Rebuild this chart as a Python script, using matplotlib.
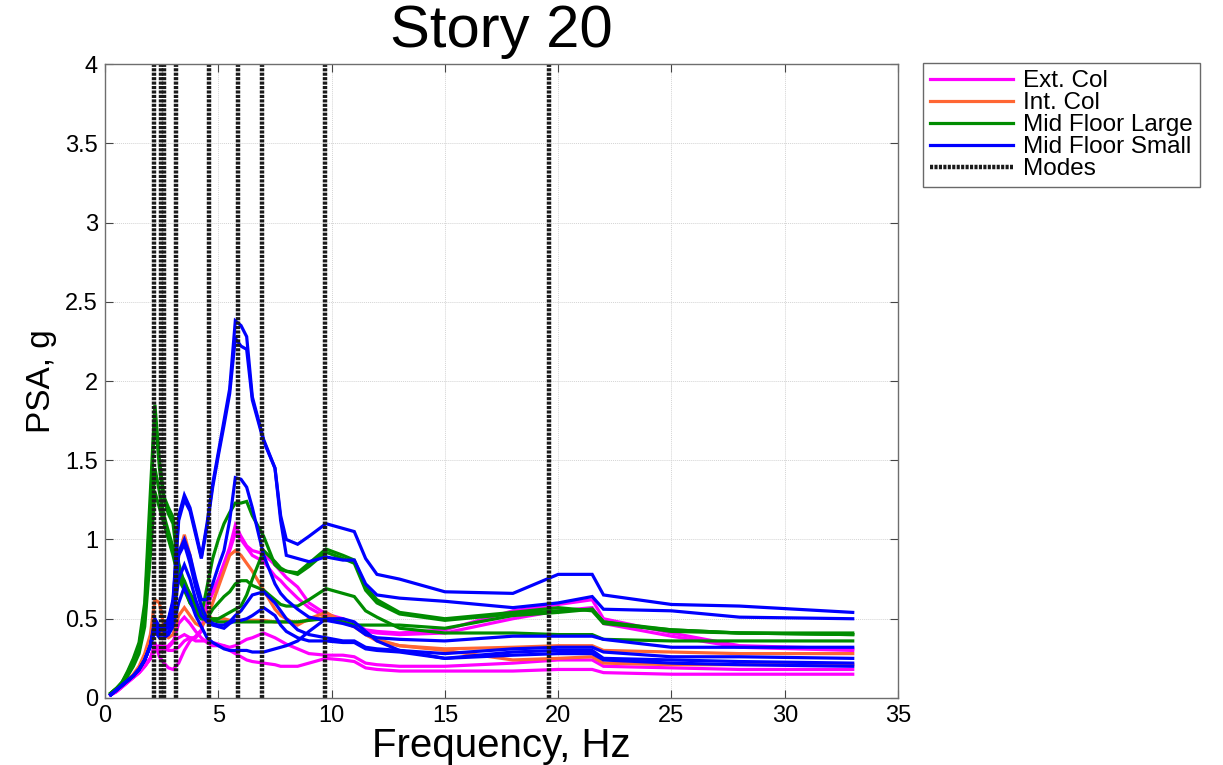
import matplotlib
matplotlib.use("Agg")
import matplotlib.pyplot as plt
from matplotlib.lines import Line2D

# Frequency grid (Hz) shared by every response spectrum
freq = [0.25, 0.5, 0.75, 1.0, 1.25, 1.5, 1.75, 2.0, 2.2, 2.4, 2.6, 2.8, 3.0,
        3.25, 3.5, 3.75, 4.0, 4.25, 4.5, 4.75, 5.0, 5.25, 5.5, 5.75, 6.0,
        6.25, 6.5, 7.0, 7.5, 7.75, 8.0, 8.5, 9.0, 9.75, 10.5, 11.0, 11.5,
        12.0, 13.0, 15.0, 18.0, 20.0, 21.5, 22.0, 25.0, 28.0, 33.0]

# PSA (g) per sensor location
ext_col = [
    [0.02, 0.04, 0.07, 0.10, 0.13, 0.16, 0.20, 0.25, 0.35, 0.26, 0.22, 0.19, 0.18,
     0.22, 0.30, 0.36, 0.39, 0.43, 0.60, 0.68, 0.75, 0.85, 0.95, 1.09, 1.02,
     0.96, 0.93, 0.91, 0.84, 0.80, 0.76, 0.70, 0.60, 0.53, 0.50, 0.47, 0.43,
     0.42, 0.41, 0.43, 0.55, 0.59, 0.62, 0.50, 0.41, 0.33, 0.31],
    [0.02, 0.04, 0.07, 0.10, 0.13, 0.16, 0.20, 0.25, 0.31, 0.30, 0.31, 0.30, 0.30,
     0.32, 0.36, 0.38, 0.38, 0.42, 0.58, 0.66, 0.73, 0.83, 0.93, 1.04, 1.00,
     0.95, 0.90, 0.86, 0.77, 0.74, 0.70, 0.63, 0.57, 0.51, 0.48, 0.45, 0.42,
     0.41, 0.40, 0.41, 0.50, 0.55, 0.57, 0.47, 0.39, 0.32, 0.30],
    [0.02, 0.04, 0.07, 0.10, 0.13, 0.16, 0.20, 0.25, 0.32, 0.33, 0.33, 0.32, 0.35,
     0.47, 0.51, 0.47, 0.42, 0.38, 0.35, 0.33, 0.33, 0.33, 0.32, 0.33, 0.35,
     0.37, 0.38, 0.41, 0.38, 0.36, 0.34, 0.31, 0.28, 0.27, 0.27, 0.26, 0.22,
     0.21, 0.20, 0.20, 0.22, 0.24, 0.24, 0.20, 0.19, 0.18, 0.18],
    [0.02, 0.04, 0.07, 0.10, 0.13, 0.16, 0.20, 0.25, 0.30, 0.30, 0.31, 0.33, 0.36,
     0.38, 0.40, 0.38, 0.36, 0.36, 0.36, 0.35, 0.34, 0.33, 0.30, 0.28, 0.26,
     0.24, 0.23, 0.22, 0.21, 0.20, 0.20, 0.20, 0.22, 0.25, 0.24, 0.23, 0.19,
     0.18, 0.17, 0.17, 0.17, 0.18, 0.18, 0.16, 0.15, 0.15, 0.15],
]

int_col = [
    [0.02, 0.05, 0.08, 0.11, 0.15, 0.20, 0.28, 0.40, 0.62, 0.60, 0.45, 0.45, 0.55,
     0.90, 1.03, 0.90, 0.72, 0.58, 0.52, 0.50, 0.50, 0.50, 0.49, 0.49, 0.49,
     0.49, 0.49, 0.49, 0.48, 0.48, 0.48, 0.48, 0.49, 0.51, 0.49, 0.47, 0.40,
     0.36, 0.33, 0.31, 0.32, 0.33, 0.33, 0.30, 0.29, 0.28, 0.28],
    [0.02, 0.05, 0.08, 0.11, 0.14, 0.18, 0.25, 0.34, 0.45, 0.42, 0.40, 0.38, 0.40,
     0.52, 0.57, 0.52, 0.47, 0.45, 0.50, 0.60, 0.70, 0.80, 0.90, 0.93, 0.90,
     0.85, 0.80, 0.68, 0.56, 0.52, 0.50, 0.46, 0.50, 0.54, 0.48, 0.45, 0.40,
     0.37, 0.33, 0.30, 0.24, 0.25, 0.26, 0.22, 0.21, 0.21, 0.21],
]

mid_large = [
    [0.03, 0.06, 0.10, 0.17, 0.25, 0.35, 0.60, 1.30, 1.85, 1.50, 1.27, 1.20, 1.14,
     0.85, 0.72, 0.66, 0.60, 0.54, 0.50, 0.49, 0.48, 0.48, 0.48, 0.48, 0.48,
     0.48, 0.48, 0.48, 0.48, 0.48, 0.48, 0.48, 0.49, 0.50, 0.48, 0.46, 0.46,
     0.46, 0.46, 0.44, 0.52, 0.54, 0.56, 0.48, 0.42, 0.41, 0.40],
    [0.03, 0.06, 0.10, 0.16, 0.24, 0.33, 0.55, 1.20, 1.80, 1.45, 1.25, 1.16, 1.10,
     0.80, 0.74, 0.65, 0.58, 0.52, 0.70, 0.88, 1.00, 1.10, 1.17, 1.23, 1.23,
     1.24, 1.15, 1.02, 0.84, 0.81, 0.80, 0.79, 0.85, 0.94, 0.90, 0.87, 0.70,
     0.62, 0.54, 0.50, 0.54, 0.57, 0.55, 0.47, 0.43, 0.41, 0.40],
    [0.03, 0.06, 0.09, 0.15, 0.22, 0.30, 0.50, 1.00, 1.45, 1.30, 1.15, 1.05, 0.95,
     0.78, 0.70, 0.60, 0.55, 0.50, 0.50, 0.56, 0.60, 0.64, 0.67, 0.72, 0.74,
     0.74, 0.71, 0.68, 0.62, 0.59, 0.58, 0.58, 0.62, 0.69, 0.66, 0.64, 0.55,
     0.51, 0.44, 0.41, 0.41, 0.40, 0.40, 0.37, 0.36, 0.36, 0.36],
    [0.03, 0.06, 0.09, 0.14, 0.20, 0.28, 0.45, 0.90, 1.30, 1.20, 1.10, 1.00, 0.90,
     0.75, 0.68, 0.60, 0.55, 0.50, 0.50, 0.50, 0.50, 0.52, 0.54, 0.56, 0.58,
     0.65, 0.75, 0.93, 0.86, 0.82, 0.80, 0.78, 0.83, 0.92, 0.88, 0.85, 0.68,
     0.60, 0.53, 0.49, 0.53, 0.55, 0.56, 0.48, 0.43, 0.41, 0.41],
]

mid_small = [
    [0.02, 0.05, 0.08, 0.11, 0.14, 0.18, 0.24, 0.33, 0.48, 0.44, 0.46, 0.50, 0.62,
     1.15, 1.28, 1.20, 1.05, 0.89, 1.10, 1.35, 1.55, 1.75, 1.95, 2.38, 2.35,
     2.28, 1.90, 1.63, 1.45, 1.15, 1.00, 0.97, 1.02, 1.10, 1.07, 1.05, 0.88,
     0.78, 0.75, 0.67, 0.66, 0.78, 0.78, 0.65, 0.59, 0.58, 0.54],
    [0.02, 0.05, 0.08, 0.11, 0.14, 0.18, 0.24, 0.33, 0.47, 0.43, 0.45, 0.49, 0.60,
     1.12, 1.25, 1.18, 1.03, 0.88, 1.08, 1.33, 1.53, 1.72, 1.92, 2.27, 2.22,
     2.20, 1.88, 1.62, 1.45, 1.12, 0.90, 0.88, 0.86, 0.89, 0.87, 0.87, 0.72,
     0.65, 0.63, 0.61, 0.57, 0.60, 0.64, 0.56, 0.55, 0.51, 0.50],
    [0.02, 0.05, 0.08, 0.11, 0.14, 0.18, 0.24, 0.33, 0.47, 0.42, 0.44, 0.48, 0.60,
     0.92, 1.00, 0.90, 0.75, 0.62, 0.62, 0.72, 0.83, 0.93, 1.12, 1.39, 1.38,
     1.33, 1.20, 0.90, 0.72, 0.66, 0.62, 0.56, 0.51, 0.49, 0.47, 0.45, 0.40,
     0.38, 0.37, 0.36, 0.39, 0.39, 0.39, 0.37, 0.32, 0.32, 0.32],
    [0.02, 0.05, 0.08, 0.11, 0.14, 0.18, 0.24, 0.33, 0.50, 0.45, 0.42, 0.45, 0.55,
     0.90, 0.97, 0.85, 0.70, 0.58, 0.50, 0.47, 0.46, 0.46, 0.48, 0.52, 0.55,
     0.60, 0.65, 0.67, 0.60, 0.55, 0.50, 0.43, 0.40, 0.38, 0.36, 0.36, 0.32,
     0.31, 0.30, 0.28, 0.31, 0.32, 0.32, 0.29, 0.26, 0.26, 0.25],
    [0.02, 0.05, 0.08, 0.11, 0.14, 0.18, 0.24, 0.33, 0.45, 0.40, 0.40, 0.42, 0.50,
     0.75, 0.84, 0.75, 0.62, 0.52, 0.48, 0.46, 0.45, 0.44, 0.47, 0.49, 0.49,
     0.50, 0.52, 0.57, 0.52, 0.46, 0.42, 0.38, 0.36, 0.36, 0.35, 0.35, 0.31,
     0.30, 0.29, 0.25, 0.29, 0.30, 0.30, 0.25, 0.24, 0.23, 0.22],
    [0.02, 0.05, 0.08, 0.11, 0.14, 0.18, 0.24, 0.33, 0.42, 0.38, 0.38, 0.40, 0.45,
     0.60, 0.70, 0.62, 0.52, 0.45, 0.38, 0.35, 0.33, 0.31, 0.30, 0.30, 0.30,
     0.30, 0.29, 0.29, 0.31, 0.32, 0.33, 0.36, 0.42, 0.50, 0.50, 0.48, 0.42,
     0.36, 0.30, 0.25, 0.27, 0.28, 0.28, 0.24, 0.22, 0.21, 0.20],
]

# Modal frequencies of the building (Hz)
modes = [2.17, 2.49, 2.62, 3.15, 4.6, 5.86, 6.91, 9.71, 19.6]

labels = ["Ext. Col", "Int. Col", "Mid Floor Large", "Mid Floor Small"]
colors = ["#ff00ff", "#ff6633", "#008c00", "#0000ff"]
groups = [ext_col, int_col, mid_large, mid_small]

plt.rcParams["font.family"] = ["Liberation Sans", "DejaVu Sans"]

fig = plt.figure(figsize=(12.23, 7.65), dpi=100)
ax = fig.add_axes([0.0859, 0.0876, 0.6484, 0.8287])

for curves, color in zip(groups, colors):
    for psa in curves:
        ax.plot(freq, psa, color=color, lw=2.3, solid_joinstyle="miter")

mode_style = dict(color="#1a1a1a", lw=3.2, linestyle=(0, (0.7, 0.3)))
for f in modes:
    ax.axvline(f, **mode_style)

ax.set_xlim(0, 35)
ax.set_ylim(0, 4)
ax.set_xticks(range(0, 36, 5))
ax.set_yticks([i * 0.5 for i in range(9)])
ax.set_yticklabels(["0", "0.5", "1", "1.5", "2", "2.5", "3", "3.5", "4"])
ax.grid(True, color="#d4d4d4", lw=0.7, linestyle=(0, (1, 1)))
ax.set_axisbelow(True)
ax.tick_params(direction="in", length=6, width=0.8, color="#444444",
               top=True, right=True, labelsize=17, pad=5)
for spine in ax.spines.values():
    spine.set_color("#6e6e6e")
    spine.set_linewidth(1.0)

ax.set_xlabel("Frequency, Hz", fontsize=29, labelpad=0)
ax.set_ylabel("PSA, g", fontsize=24, labelpad=6)
ax.set_title("Story 20", fontsize=43, pad=12)

handles = [Line2D([], [], color=c, lw=2.3) for c in colors]
handles.append(Line2D([], [], **mode_style))
leg = fig.legend(handles, labels + ["Modes"], loc="upper left",
                 bbox_to_anchor=(0.7547, 0.918), fontsize=17.5, frameon=True,
                 fancybox=False, edgecolor="#444444", handlelength=3.4,
                 handletextpad=0.4, labelspacing=0.0, borderpad=0.3,
                 borderaxespad=0)
leg.get_frame().set_linewidth(1.0)

fig.savefig("out.png", dpi=100)
